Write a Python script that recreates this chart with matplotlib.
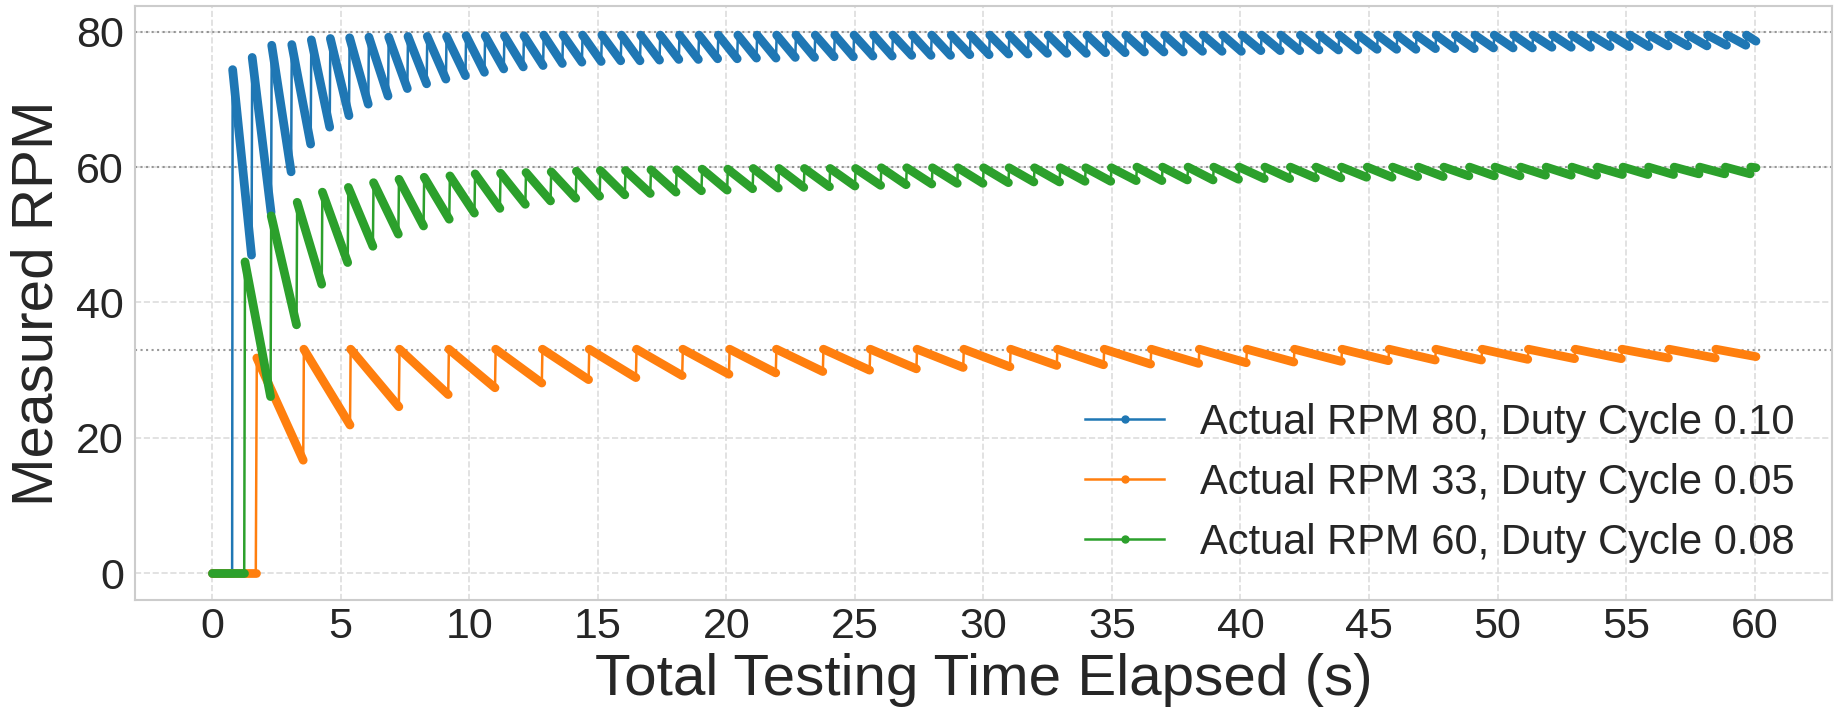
import matplotlib.pyplot as plt
from matplotlib.collections import LineCollection
from matplotlib.lines import Line2D

# ---------- データ ----------
SAMPLE_DT = 0.025   # 谷 -> 次の山 までの1サンプル [s]
END_T = 60.05       # 計測終了 [s]

labels = ["Actual RPM 80, Duty Cycle 0.10",
          "Actual RPM 33, Duty Cycle 0.05",
          "Actual RPM 60, Duty Cycle 0.08"]
colors = ["#1f77b4", "#ff7f0e", "#2ca02c"]
targets = [80, 60, 33]

# RPM 80
blue_start = 0.78
blue_peak_t = [0.80, 1.56, 2.32, 3.10, 3.86, 4.60, 5.35, 6.10, 6.87, 7.62,
               8.37, 9.12, 9.88, 10.62, 11.37, 12.13, 12.90, 13.65,
               14.41, 15.16, 15.92, 16.67, 17.43, 18.18, 18.94, 19.69, 20.45, 21.20,
               21.96, 22.71, 23.46, 24.22, 24.97, 25.73, 26.48, 27.24, 27.99, 28.75,
               29.50, 30.25, 31.01, 31.76, 32.52, 33.27, 34.03, 34.78, 35.54, 36.29,
               37.05, 37.80, 38.55, 39.31, 40.06, 40.82, 41.57, 42.33, 43.08, 43.84,
               44.59, 45.34, 46.10, 46.85, 47.61, 48.36, 49.12, 49.87, 50.63, 51.38,
               52.14, 52.89, 53.64, 54.40, 55.15, 55.91, 56.66, 57.42, 58.17, 58.93,
               59.68]
blue_peak_rpm = [74.4, 76.2, 78.0, 78.1, 78.8, 79.0, 79.1, 79.2, 79.2, 79.3,
                 79.3, 79.3, 79.4, 79.4, 79.4, 79.4, 79.5, 79.5,
                 79.5, 79.5, 79.5, 79.5, 79.5, 79.5, 79.5, 79.5, 79.5, 79.5,
                 79.5, 79.5, 79.5, 79.5, 79.5, 79.5, 79.5, 79.5, 79.5, 79.5,
                 79.5, 79.5, 79.5, 79.5, 79.5, 79.5, 79.5, 79.5, 79.5, 79.5,
                 79.5, 79.5, 79.5, 79.5, 79.5, 79.5, 79.5, 79.5, 79.5, 79.5,
                 79.5, 79.5, 79.5, 79.5, 79.5, 79.5, 79.5, 79.5, 79.5, 79.5,
                 79.5, 79.5, 79.5, 79.5, 79.5, 79.5, 79.5, 79.5, 79.5, 79.5,
                 79.5]
blue_trough_rpm = [47.0, 53.3, 59.3, 63.4, 65.9, 67.6, 69.3, 70.5, 71.6, 72.3,
                   73.0, 73.5, 74.0, 74.5, 74.8, 75.0, 75.3, 75.5,
                   75.6, 75.7, 75.7, 75.8, 75.9, 75.9, 76.0, 76.0, 76.1, 76.1,
                   76.2, 76.2, 76.3, 76.3, 76.4, 76.4, 76.5, 76.5, 76.5, 76.6,
                   76.6, 76.7, 76.7, 76.8, 76.8, 76.8, 76.9, 76.9, 77.0, 77.0,
                   77.0, 77.1, 77.1, 77.1, 77.2, 77.2, 77.2, 77.3, 77.3, 77.3,
                   77.4, 77.4, 77.4, 77.5, 77.5, 77.5, 77.6, 77.6, 77.6, 77.7,
                   77.7, 77.7, 77.8, 77.8, 77.8, 77.9, 77.9, 77.9, 78.0, 78.0,
                   78.6]

# RPM 33
orange_start = 1.70
orange_peak_t = [1.74, 3.57, 5.39, 7.29, 9.21, 11.03, 12.85, 14.67,
                 16.51, 18.31, 20.13, 21.95, 23.78, 25.60, 27.42, 29.24,
                 31.06, 32.88, 34.70, 36.53, 38.40, 40.25, 42.10, 43.95,
                 45.78, 47.60, 49.40, 51.20, 53.02, 54.84, 56.67, 58.49]
orange_peak_rpm = [31.8, 33.1, 33.1, 33.1, 33.1, 33.1, 33.1, 33.1,
                   33.1, 33.1, 33.1, 33.1, 33.1, 33.1, 33.1, 33.1,
                   33.1, 33.1, 33.1, 33.1, 33.1, 33.1, 33.1, 33.1,
                   33.1, 33.1, 33.1, 33.1, 33.1, 33.1, 33.1, 33.1]
orange_trough_rpm = [16.7, 21.9, 24.6, 26.4, 27.4, 28.1, 28.6, 28.9,
                     29.2, 29.4, 29.6, 29.8, 30.0, 30.2, 30.4, 30.5,
                     30.7, 30.8, 30.9, 31.0, 31.1, 31.2, 31.3, 31.4,
                     31.5, 31.5, 31.6, 31.7, 31.7, 31.8, 31.8, 32.0]

# RPM 60
green_start = 1.25
green_peak_t = [1.28, 2.30, 3.31, 4.29, 5.30, 6.28, 7.27, 8.25, 9.25, 10.23,
                11.22, 12.21, 13.19, 14.17, 15.10, 16.08, 17.07, 18.07, 19.06, 20.06,
                21.05, 22.05, 23.04, 24.04, 25.03, 26.03, 27.02, 28.02, 29.01, 30.01,
                31.00, 31.99, 32.99, 33.98, 34.98, 35.97, 36.97, 37.96, 38.96, 39.95,
                40.95, 41.94, 42.94, 43.93, 44.93, 45.92, 46.92, 47.91, 48.91, 49.90,
                50.90, 51.89, 52.89, 53.88, 54.88, 55.87, 56.87, 57.86, 58.86, 59.85]
green_peak_rpm = [46.0, 52.8, 54.8, 56.3, 57.0, 57.7, 58.2, 58.5, 58.7, 59.0,
                  59.1, 59.2, 59.3, 59.4, 59.5, 59.5, 59.6, 59.6, 59.7, 59.7,
                  59.8, 59.8, 59.8, 59.8, 59.8, 59.9, 59.9, 59.9, 59.9, 59.9,
                  59.9, 59.9, 59.9, 59.9, 59.9, 60.0, 60.0, 60.0, 60.0, 60.0,
                  60.0, 60.0, 60.0, 60.0, 60.0, 60.0, 60.0, 60.0, 60.0, 60.0,
                  60.0, 60.0, 60.0, 60.0, 60.0, 60.0, 60.0, 60.0, 60.0, 60.0]
green_trough_rpm = [26.1, 36.7, 42.7, 45.9, 48.3, 50.1, 51.3, 52.3, 53.2, 53.9,
                    54.5, 55.0, 55.4, 55.7, 55.9, 56.1, 56.3, 56.5, 56.6, 56.8,
                    56.9, 57.0, 57.1, 57.2, 57.3, 57.4, 57.5, 57.6, 57.6, 57.7,
                    57.8, 57.8, 57.9, 57.9, 58.0, 58.0, 58.1, 58.1, 58.2, 58.3,
                    58.3, 58.4, 58.4, 58.5, 58.5, 58.6, 58.6, 58.7, 58.7, 58.7,
                    58.8, 58.8, 58.8, 58.9, 58.9, 58.9, 59.0, 59.0, 59.0, 59.9]

series = [
    (blue_start, blue_peak_t, blue_peak_rpm, blue_trough_rpm),
    (orange_start, orange_peak_t, orange_peak_rpm, orange_trough_rpm),
    (green_start, green_peak_t, green_peak_rpm, green_trough_rpm),
]


def build(start, peak_t, peak_rpm, trough_rpm):
    # 0 -> 山 -> 谷 -> 山 ... の折れ線
    t, y = [0.0, start], [0.0, 0.0]
    for i in range(len(peak_t)):
        end = peak_t[i + 1] - SAMPLE_DT if i + 1 < len(peak_t) else END_T
        t += [peak_t[i], end]
        y += [peak_rpm[i], trough_rpm[i]]
    return t, y


# ---------- スタイル ----------
plt.rcParams['font.family'] = ['Liberation Sans', 'DejaVu Sans']
TEXT_C = "#262626"

fig = plt.figure(figsize=(18.41, 7.13), dpi=100)
ax = fig.add_axes([0.0733, 0.158, 0.9217, 0.8336])

ax.set_xlim(-3, 63)
ax.set_ylim(-4, 83.8)
ax.set_xticks(range(0, 61, 5))
ax.set_yticks(range(0, 81, 20))
ax.tick_params(axis='both', length=0, labelsize=31, labelcolor=TEXT_C)
ax.tick_params(axis='x', pad=5)
ax.tick_params(axis='y', pad=8)
ax.grid(True, color="#dddddd", linestyle="--", linewidth=1.2)
ax.set_axisbelow(True)
for s in ax.spines.values():
    s.set_color("#cccccc")
    s.set_linewidth(1.5)

# 目標RPMの点線
for v in targets:
    ax.axhline(v, color="gray", linestyle=":", linewidth=1.5, alpha=0.8, zorder=1.5)

# ---------- データ描画 ----------
handles = []
for k, ((start, pt, pr, tr), c, lab) in enumerate(zip(series, colors, labels)):
    t, y = build(start, pt, pr, tr)
    z = 2 + k
    ax.plot(t, y, color=c, linewidth=1.8, zorder=z)
    # 減速区間は密なマーカーで太い帯に見える
    segs = [[(t[i], y[i]), (t[i + 1], y[i + 1])]
            for i in range(len(t) - 1) if y[i + 1] <= y[i]]
    ax.add_collection(LineCollection(segs, colors=c, linewidths=6.3,
                                     capstyle='round', zorder=z))
    handles.append(Line2D([], [], color=c, linewidth=1.8, marker='o',
                          markersize=5, label=lab))

ax.legend(handles=handles, loc='lower right', fontsize=30, frameon=False,
          labelspacing=0.48, handlelength=1.9, handletextpad=0.85,
          borderaxespad=0.5, labelcolor=TEXT_C)

ax.set_xlabel("Total Testing Time Elapsed (s)", fontsize=42, color=TEXT_C, labelpad=4)
ax.set_ylabel("Measured RPM", fontsize=42, color=TEXT_C, labelpad=8)

fig.savefig("out.png", dpi=100)
